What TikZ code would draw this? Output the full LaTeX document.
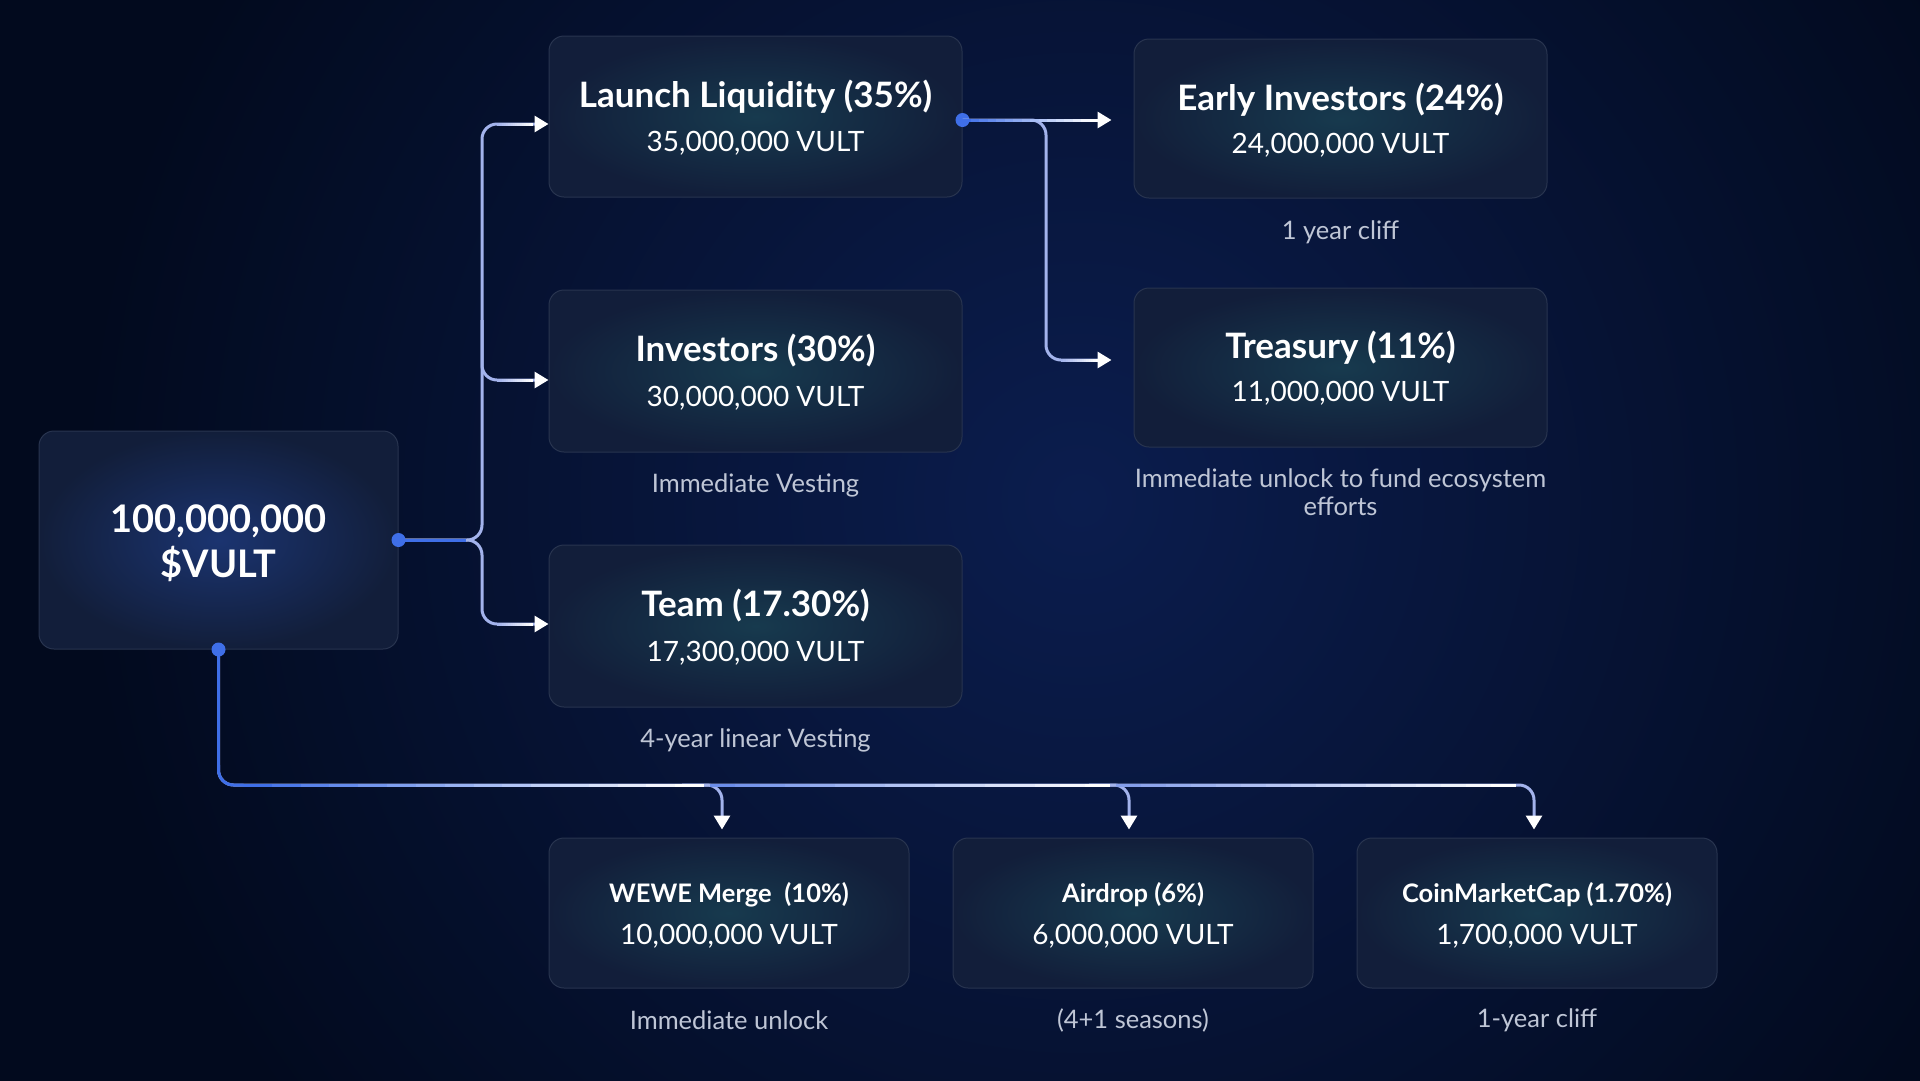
\documentclass[tikz,border=0pt]{standalone}
\usepackage{fontspec}
\setmainfont{Lato}
\usetikzlibrary{arrows.meta,calc}
\definecolor{bgdark}{HTML}{020A1E}
\definecolor{bgmid}{HTML}{0B1D4E}
\definecolor{boxfill}{HTML}{121E3A}
\definecolor{boxglow}{HTML}{173A4E}
\definecolor{boxedge}{HTML}{28344F}
\definecolor{mainglow}{HTML}{1B3470}
\definecolor{dotblue}{HTML}{3F6FE8}
\definecolor{lav}{HTML}{A3B3EC}
\definecolor{captxt}{HTML}{BFC6D6}
\newcommand\boxtitle{\fontsize{35}{40}\selectfont\bfseries}
\newcommand\boxvalue{\fontsize{28}{32}\selectfont}
\newcommand\smalltitle{\fontsize{25.5}{30}\selectfont\bfseries}
\newcommand\captfont{\fontsize{25.5}{27.5}\selectfont}
\newcommand\gradseg[5]{% x0 x1 y startcolor endcolor
  \foreach \i in {0,...,15}{
    \pgfmathsetmacro\xa{#1+\i*(#2-#1)/16}
    \pgfmathsetmacro\xb{#1+(\i+1)*(#2-#1)/16}
    \pgfmathtruncatemacro\pc{100-\i*100/15}
    \draw[line width=3pt, #4!\pc!#5] (\xa,#3) -- (\xb,#3);
  }}
\begin{document}
\begin{tikzpicture}[x=1pt,y=-1pt,
  card/.style={rectangle, rounded corners=15pt, draw=boxedge, line width=1pt,
    inner color=boxglow, outer color=boxfill, inner sep=0pt},
  ttl/.style={text=white, font=\boxtitle, inner sep=0pt},
  val/.style={text=white, font=\boxvalue, inner sep=0pt},
  sttl/.style={text=white, font=\smalltitle, inner sep=0pt},
  capnote/.style={text=captxt, font=\captfont, align=center, inner sep=0pt},
  bluedot/.style={circle, fill=dotblue, minimum size=14pt, inner sep=0pt},
  conn/.style={line width=3pt, draw=lav, rounded corners=15pt,
    -{Triangle[length=14pt,width=16pt,color=white]}}]
\useasboundingbox (0,0) rectangle (1920,1080);
\fill[bgdark] (-5,-5) rectangle (1925,1085);
\begin{scope}
  \clip (-5,-5) rectangle (1925,1085);
  \shade[inner color=bgmid, outer color=bgdark] (1080,500) circle (1000);
\end{scope}

% cards
\node[card, minimum width=359pt, minimum height=218pt, inner color=mainglow] (total) at (218.5,540) {};
\node[text=white, font=\fontsize{38}{44}\selectfont\bfseries, inner sep=0pt] (totalT) at ([yshift=19pt]total.center) {100,000,000};
\node[text=white, font=\fontsize{38}{44}\selectfont\bfseries, inner sep=0pt] (totalV) at ([yshift=-24pt]total.center) {\$VULT};

\node[card, minimum width=413pt, minimum height=161pt] (launch) at (755.5,116.5) {};
\node[ttl] (launchT) at ([yshift=20pt]launch.center) {Launch Liquidity (35\%)};
\node[val] (launchV) at ([yshift=-27pt]launch.center) {35,000,000 VULT};

\node[card, minimum width=413pt, minimum height=162pt] (inv) at (755.5,371) {};
\node[ttl] (invT) at ([yshift=20pt]inv.center) {Investors (30\%)};
\node[val] (invV) at ([yshift=-27pt]inv.center) {30,000,000 VULT};
\node[capnote] (invC) at (755.5,485) {Immediate Vesting};

\node[card, minimum width=413pt, minimum height=162pt] (team) at (755.5,626) {};
\node[ttl] (teamT) at ([yshift=20pt]team.center) {Team (17.30\%)};
\node[val] (teamV) at ([yshift=-27pt]team.center) {17,300,000 VULT};
\node[capnote] (teamC) at (755.5,740) {4-year linear Vesting};

\node[card, minimum width=413pt, minimum height=159pt] (early) at (1340.5,118.5) {};
\node[ttl] (earlyT) at ([yshift=19pt]early.center) {Early Investors (24\%)};
\node[val] (earlyV) at ([yshift=-27pt]early.center) {24,000,000 VULT};
\node[capnote] (earlyC) at (1340.5,232) {1 year cliff};

\node[card, minimum width=413pt, minimum height=159pt] (treas) at (1340.5,367.5) {};
\node[ttl] (treasT) at ([yshift=20pt]treas.center) {Treasury (11\%)};
\node[val] (treasV) at ([yshift=-26pt]treas.center) {11,000,000 VULT};
\node[capnote] (treasC) at (1340.5,492) {Immediate unlock to fund ecosystem\\efforts};

\node[card, minimum width=360pt, minimum height=150pt] (wewe) at (729,913) {};
\node[sttl] (weweT) at ([yshift=18pt]wewe.center) {WEWE Merge\enspace(10\%)};
\node[val] (weweV) at ([yshift=-23pt]wewe.center) {10,000,000 VULT};
\node[capnote] (weweC) at (729,1020) {Immediate unlock};

\node[card, minimum width=360pt, minimum height=150pt] (air) at (1133,913) {};
\node[sttl] (airT) at ([yshift=18pt]air.center) {Airdrop (6\%)};
\node[val] (airV) at ([yshift=-23pt]air.center) {6,000,000 VULT};
\node[capnote] (airC) at (1133,1020) {(4+1 seasons)};

\node[card, minimum width=360pt, minimum height=150pt] (cmc) at (1537,913) {};
\node[sttl] (cmcT) at ([yshift=18pt]cmc.center) {CoinMarketCap (1.70\%)};
\node[val] (cmcV) at ([yshift=-23pt]cmc.center) {1,700,000 VULT};
\node[capnote] (cmcC) at (1537,1020) {1-year cliff};

% connector anchor coordinates
\coordinate (launchIn) at ([yshift=-7.5pt]launch.west);
\coordinate (invIn) at ([yshift=-9pt]inv.west);
\coordinate (teamIn) at ([yshift=2pt]team.west);
\coordinate (launchOut) at ([yshift=-3.5pt]launch.east);
\coordinate (earlyIn) at (launchOut -| early.west);
\coordinate (treasIn) at ([yshift=7.5pt]treas.west);
\coordinate (weweIn) at ([xshift=-7pt]wewe.north);
\coordinate (airIn) at ([xshift=-4pt]air.north);
\coordinate (cmcIn) at ([xshift=-3pt]cmc.north);
\coordinate (j1) at (482,540);
\coordinate (j2) at (1046,120);
\coordinate (hb) at (0,785);

% left fan-out
\draw[conn] (total.east) -| (j1 |- launchIn) -- (launchIn);
\draw[conn] ($(j1 |- invIn)+(0,-60)$) |- (invIn);
\draw[conn] (total.east) -| (j1 |- teamIn) -- (teamIn);
\draw[line width=3pt, dotblue] (total.east) -- ($(j1)+(-16,0)$);
\gradseg{497}{533}{124}{lav}{white}
\gradseg{497}{533}{380}{lav}{white}
\gradseg{497}{533}{624}{lav}{white}

% right fan-out
\node[bluedot] (d2) at (launchOut) {};
\draw[conn, shorten >=22pt] (d2.center) -- (earlyIn);
\draw[conn, shorten >=22pt] (d2.center) -| (j2 |- treasIn) -- (treasIn);
\gradseg{962}{1098}{120}{dotblue}{white}
\gradseg{1061}{1098}{360}{lav}{white}

% bottom distribution
\draw[conn, shorten >=8pt] (total.south) |- (hb -| cmcIn) -- (cmcIn);
\draw[conn, shorten >=8pt] ($(hb -| weweIn)+(-40,0)$) -| (weweIn);
\draw[conn, shorten >=8pt] ($(hb -| airIn)+(-40,0)$) -| (airIn);
\draw[line width=3pt, dotblue] (total.south) -- ($(total.south |- hb)+(0,-16)$);
\draw[line width=3pt, dotblue, rounded corners=15pt] ($(total.south |- hb)+(0,-20)$) |- ($(total.south |- hb)+(25,0)$);
\gradseg{243}{704}{785}{dotblue}{white}
\gradseg{710}{1110}{785}{lav!45!dotblue}{white}
\gradseg{1116}{1516}{785}{lav!70!dotblue}{white}

% dots
\node[bluedot] (d1) at (total.east) {};
\node[bluedot] (d3) at (total.south) {};
\end{tikzpicture}
\end{document}
